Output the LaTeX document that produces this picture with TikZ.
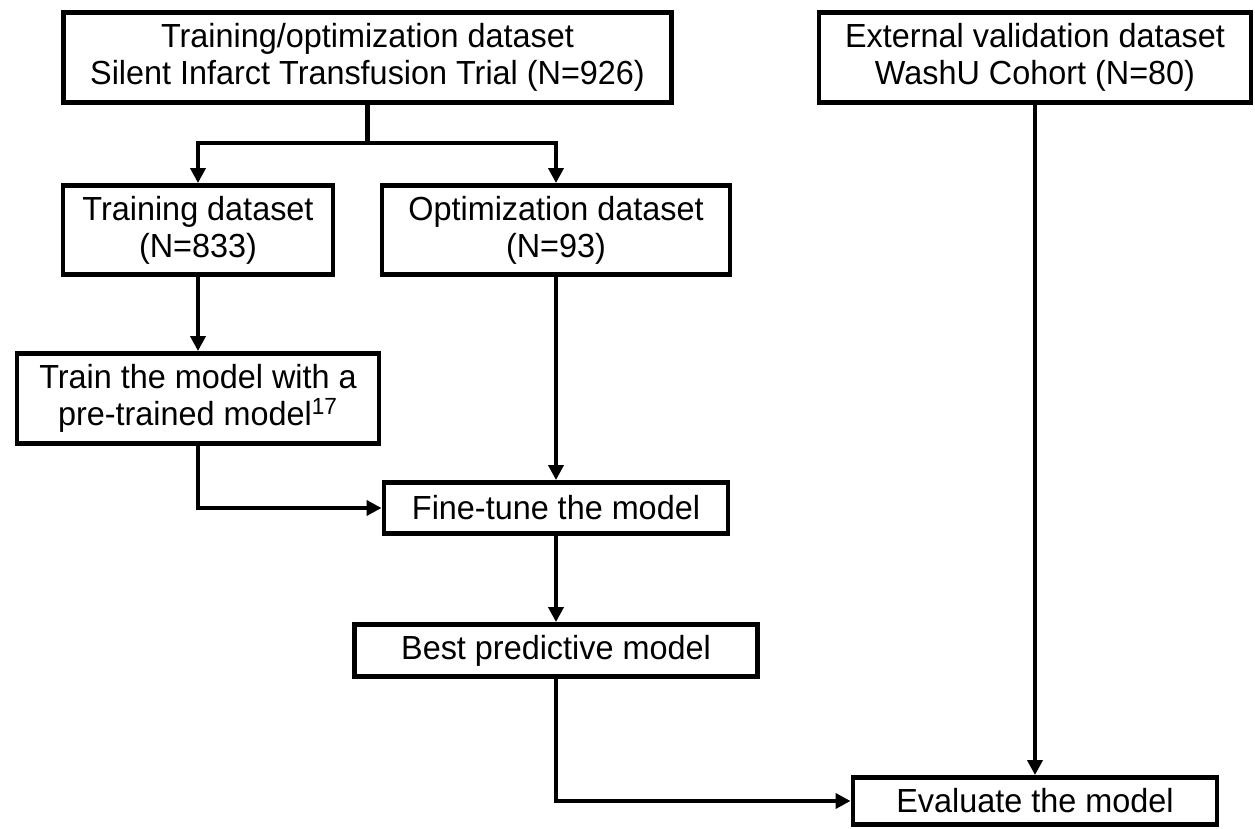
\documentclass[tikz,border=0pt]{standalone}
\usepackage{fontspec}
\setmainfont{Liberation Sans}[FakeStretch=0.97]
\usepackage{tikz}
\usetikzlibrary{arrows.meta,positioning,calc}
\tikzstyle{block}=[draw,line width=2.8pt,align=center,inner sep=2pt,font=\fontsize{19}{21}\selectfont]
\tikzstyle{flow}=[line width=2.3pt,-{Triangle[length=0.3cm,width=0.3cm]}]

\begin{document}
\begin{tikzpicture}
\useasboundingbox (0,0) rectangle (25.1,-16.58);
% data sources
\node [block,minimum width=12.16cm,minimum height=1.8cm] (trialset) at (7.35,-1.15) {Training/optimization dataset\\Silent Infarct Transfusion Trial (N=926)};
\node [block,minimum width=8.64cm,minimum height=1.8cm] (extset) at (20.7,-1.15) {External validation dataset\\WashU Cohort (N=80)};
% split
\node [block,minimum width=5.4cm,minimum height=1.78cm] (trainset) at (3.96,-4.6) {Training dataset\\(N=833)};
\node [block,minimum width=6.96cm,minimum height=1.78cm] (optset) at (11.12,-4.6) {Optimization dataset\\(N=93)};
% model steps
\node [block,minimum width=7.24cm,minimum height=1.8cm] (pretrain) at (3.96,-7.97) {Train the model with a\\pre-trained model\textsuperscript{17}};
\node [block,minimum width=6.88cm,minimum height=1.02cm] (finetune) at (11.12,-10.16) {Fine-tune the model};
\node [block,minimum width=8.06cm,minimum height=1.04cm] (bestmodel) at (11.12,-13.01) {Best predictive model};
\node [block,minimum width=7.28cm,minimum height=0.94cm] (evaluate) at (20.7,-16.02) {Evaluate the model};

\draw [line width=2.3pt] (trialset.south) -- ++(0,-0.76) coordinate (split);
\draw [flow] (split) -| (trainset.north);
\draw [flow] (split) -| (optset.north);
\draw [flow] (trainset) -- (pretrain);
\draw [flow] (optset) -- (finetune);
\draw [flow] (pretrain.south) |- (finetune.west);
\draw [flow] (finetune) -- (bestmodel);
\draw [flow] (bestmodel.south) |- (evaluate.west);
\draw [flow] (extset) -- (evaluate);
\end{tikzpicture}
\end{document}
